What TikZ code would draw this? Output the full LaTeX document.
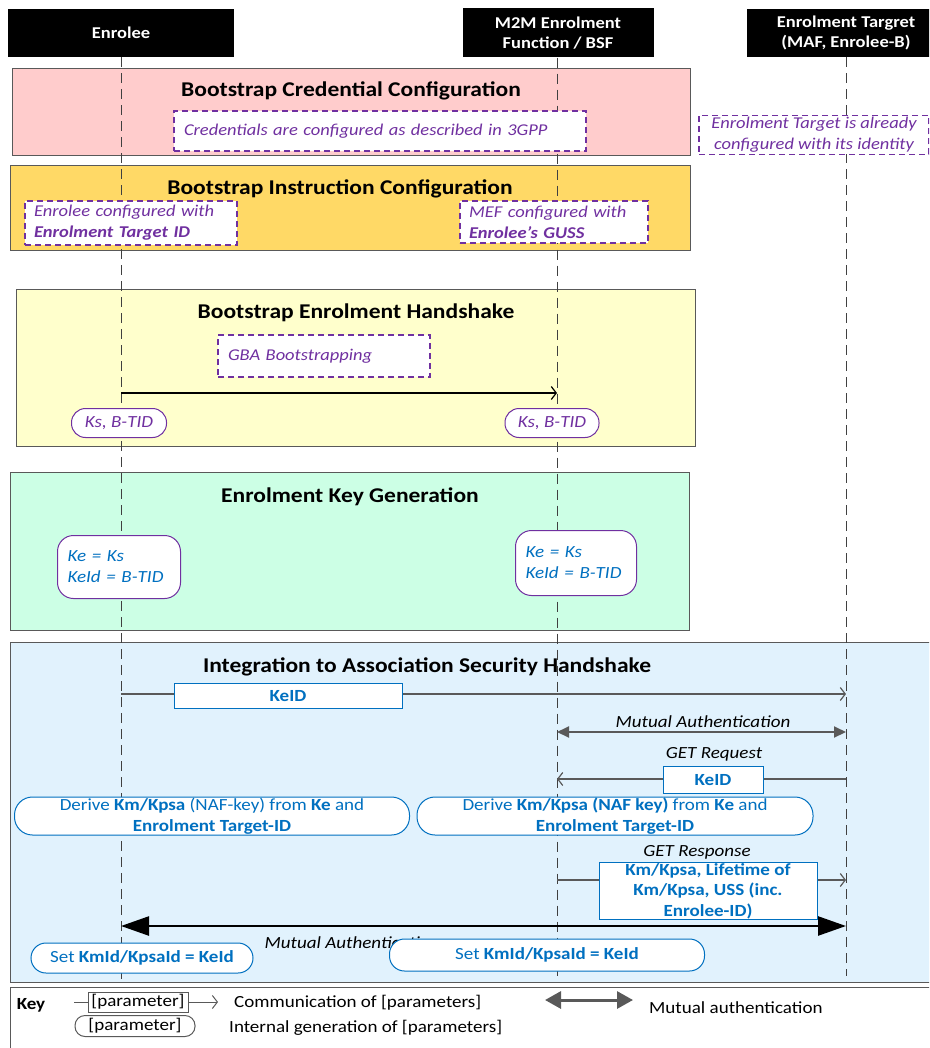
\documentclass[tikz,border=0pt]{standalone}
\usepackage{fontspec}
\setmainfont{Carlito}[FakeStretch=1.12]
\usetikzlibrary{arrows.meta}

\definecolor{mefblue}{HTML}{0070C0}
\definecolor{mefpurple}{HTML}{7030A0}
\definecolor{edgegray}{HTML}{595959}
\definecolor{lifegray}{HTML}{404040}
\definecolor{msggray}{HTML}{595959}
\definecolor{credpink}{HTML}{FFCCCC}
\definecolor{instrorange}{HTML}{FFD966}
\definecolor{handyellow}{HTML}{FFFFCC}
\definecolor{keygreen}{HTML}{CCFFE5}
\definecolor{assocblue}{HTML}{E1F2FD}

\begin{document}
\begin{tikzpicture}[
		x=1pt, y=-1pt,
		every node/.style={inner sep=0pt, font=\fontsize{17}{21}\selectfont},
		actor/.style={fill=black, text=white, font=\fontsize{16.5}{20}\selectfont\bfseries, align=center},
		phase/.style={draw=edgegray, line width=1.2pt, anchor=north west},
		phasetitle/.style={font=\fontsize{21}{24}\selectfont\bfseries},
		lifeline/.style={draw=lifegray, line width=1pt, dash pattern=on 10pt off 6pt},
		note/.style={draw=mefpurple, line width=1.2pt, dash pattern=on 6pt off 4pt, fill=white, text=mefpurple, font=\fontsize{16.5}{21}\selectfont\itshape},
		pill/.style={draw=mefpurple, line width=1pt, fill=white, text=mefpurple, font=\fontsize{17}{21}\selectfont\itshape},
		keyid/.style={draw=mefblue, line width=1pt, fill=white, text=mefblue, font=\fontsize{17}{20.5}\selectfont\bfseries, align=center},
		derive/.style={draw=mefblue, line width=1pt, fill=white, text=mefblue, font=\fontsize{17}{21}\selectfont, align=center},
		msg/.style={draw=msggray, line width=1.2pt, -{Straight Barb[length=5pt,width=13pt]}},
		mutual/.style={draw=msggray, line width=2pt, {Triangle[length=12pt,width=11pt]}-{Triangle[length=12pt,width=11pt]}},
		caption/.style={font=\fontsize{17}{21}\selectfont\itshape}
	]
  \clip (0, 0) rectangle (929, 1048);
  \fill[white] (0, 0) rectangle (929, 1048);

  % actors
  \node (enrolee) [actor, minimum width=226pt, minimum height=48pt] at (121, 33) {Enrolee};
  \node (mef) [actor, minimum width=191pt, minimum height=49pt] at (558, 33) {M2M Enrolment\\Function / BSF};
  \node (target) [actor, minimum width=198pt, minimum height=48pt] at (846, 33) {Enrolment Targret\\(MAF, Enrolee-B)};

  % phases
  \node (cred) [phase, fill=credpink, minimum width=678pt, minimum height=87pt] at (12, 68) {};
  \node (instr) [phase, fill=instrorange, minimum width=680pt, minimum height=85pt] at (10, 165) {};
  \node (hand) [phase, fill=handyellow, minimum width=679pt, minimum height=157pt] at (16, 289) {};
  \node (keygen) [phase, fill=keygreen, minimum width=679pt, minimum height=158pt] at (10, 472) {};
  \node (assoc) [phase, fill=assocblue, minimum width=940pt, minimum height=340pt] at (10, 642) {};
  \node (legend) [phase, fill=white, minimum width=940pt, minimum height=80pt] at (10, 987) {};

  \node (cred_title) [phasetitle] at (351, 91) {Bootstrap Credential Configuration};
  \node (instr_title) [phasetitle] at (340, 189) {Bootstrap Instruction Configuration};
  \node (hand_title) [phasetitle] at (356, 313) {Bootstrap Enrolment Handshake};
  \node (keygen_title) [phasetitle] at (350, 497) {Enrolment Key Generation};
  \node (assoc_title) [phasetitle] at (427, 667) {Integration to Association Security Handshake};

  % lifelines
  \coordinate (enrolee_end) at (121, 985);
  \coordinate (mef_end) at (557, 976);
  \coordinate (target_end) at (846, 976);
  \draw[lifeline] (enrolee) -- (enrolee_end);
  \draw[lifeline] (mef.south -| mef_end) -- (mef_end);
  \draw[lifeline] (target) -- (target_end);

  % configuration notes
  \node (cred_note) [note, text width=392pt, minimum height=40pt, inner xsep=10pt, align=left] at (380, 131) {Credentials are configured as described in 3GPP};
  \node (target_note) [note, minimum width=230pt, minimum height=39pt, align=center] at (814, 135) {Enrolment Target is already\\configured with its identity};
  \node (enrolee_note) [note, text width=194pt, minimum height=44pt, inner xsep=9pt, align=left] at (131, 223) {Enrolee configured with\\\textbf{Enrolment Target ID}};
  \node (mef_note) [note, text width=170pt, minimum height=42pt, inner xsep=9pt, align=left] at (554, 222) {MEF configured with\\\textbf{Enrolee’s GUSS}};

  % GBA bootstrapping
  \node (gba_note) [note, text width=192pt, minimum height=42pt, inner xsep=10pt, align=left] at (324, 356) {GBA Bootstrapping};
  \coordinate (gba_a) at (enrolee |- 0,393);
  \coordinate (gba_b) at (mef_end |- 0,393);
  \draw[line width=1.2pt, -{Straight Barb[length=5pt,width=13pt]}] (gba_a) -- (gba_b);
  \node (ks_enrolee) [pill, rounded corners=14pt, minimum width=95pt, minimum height=29pt] at (119, 423) {Ks, B-TID};
  \node (ks_mef) [pill, rounded corners=14pt, minimum width=94pt, minimum height=29pt] at (552, 423) {Ks, B-TID};

  % key generation
  \node (ke_enrolee) [pill, rounded corners=16pt, text=mefblue, text width=103pt, minimum height=63pt, inner xsep=10pt, align=left] at (119, 567) {Ke = Ks\\KeId = B-TID};
  \node (ke_mef) [pill, rounded corners=16pt, text=mefblue, text width=101pt, minimum height=65pt, inner xsep=10pt, align=left] at (576, 563) {Ke = Ks\\KeId = B-TID};

  % association security handshake
  \coordinate (keid_a) at (enrolee |- 0,694);
  \coordinate (keid_b) at (target_end |- 0,694);
  \draw[msg] (keid_a) -- (keid_b);
  \node (keid_msg) [keyid, minimum width=228pt, minimum height=25pt] at (288, 696) {KeID};

  \coordinate (auth_a) at (mef_end |- 0,732);
  \coordinate (auth_b) at (target_end |- 0,732);
  \draw[mutual] (auth_a) -- (auth_b);
  \node (auth_label) [caption] at (703, 722) {Mutual Authentication};

  \coordinate (req_a) at (target_end |- 0,779);
  \coordinate (req_b) at (mef_end |- 0,779);
  \draw[msg] (req_a) -- (req_b);
  \node (req_label) [caption] at (714, 754) {GET Request};
  \node (req_msg) [keyid, minimum width=100pt, minimum height=27pt] at (713, 780) {KeID};

  \node (derive_enrolee) [derive, rounded corners=18pt, minimum width=395pt, minimum height=38pt] at (212, 816) {Derive \textbf{Km/Kpsa} (NAF-key) from \textbf{Ke} and\\\textbf{Enrolment Target-ID}};
  \node (derive_mef) [derive, rounded corners=18pt, minimum width=396pt, minimum height=38pt] at (615, 816) {Derive \textbf{Km/Kpsa (NAF key)} from \textbf{Ke} and\\\textbf{Enrolment Target-ID}};

  \coordinate (resp_a) at (mef_end |- 0,880);
  \coordinate (resp_b) at (target_end |- 0,880);
  \draw[msg] (resp_a) -- (resp_b);
  \node (resp_label) [caption] at (697, 852) {GET Response};
  \node (resp_msg) [keyid, minimum width=218pt, minimum height=57pt] at (708, 891) {Km/Kpsa, Lifetime of\\Km/Kpsa, USS (inc.\\Enrolee-ID)};

  \coordinate (final_a) at (enrolee |- 0,926);
  \coordinate (final_b) at (target_end |- 0,926);
  \draw[line width=2.5pt, {Triangle[length=28pt,width=19pt]}-{Triangle[length=28pt,width=19pt]}] (final_a) -- (final_b);
  \node (final_label) [caption] at (352, 943) {Mutual Authentication};

  \node (set_enrolee) [derive, rounded corners=15pt, minimum width=222pt, minimum height=30pt] at (142, 958) {Set \textbf{KmId/KpsaId = KeId}};
  \node (set_mef) [derive, rounded corners=15pt, minimum width=315pt, minimum height=32pt] at (547, 955) {Set \textbf{KmId/KpsaId = KeId}};

  % key
  \node (key_title) [font=\fontsize{17}{21}\selectfont\bfseries] at (31, 1005) {Key};
  \coordinate (key_comm_a) at (74, 1002);
  \coordinate (key_comm_b) at (218, 1002);
  \node (key_param) [draw=edgegray, line width=1pt, minimum width=100pt, minimum height=20pt] at (138, 1002) {[parameter]};
  \draw[draw=edgegray, line width=1pt] (key_comm_a) -- (key_param);
  \draw[msg, line width=1pt] (key_param) -- (key_comm_b);
  \node (key_comm_text) [anchor=west] at (234, 1003) {Communication of [parameters]};
  \coordinate (key_auth_a) at (545, 1000);
  \coordinate (key_auth_b) at (633, 1000);
  \draw[draw=edgegray, line width=3pt, {Triangle[length=16pt,width=17pt]}-{Triangle[length=16pt,width=17pt]}] (key_auth_a) -- (key_auth_b);
  \node (key_auth_text) [anchor=west] at (649, 1008) {Mutual authentication};
  \node (key_pill) [draw=edgegray, line width=1pt, rounded corners=10pt, minimum width=120pt, minimum height=21pt] at (135, 1026) {[parameter]};
  \node (key_pill_text) [anchor=west] at (229, 1028) {Internal generation of [parameters]};
\end{tikzpicture}
\end{document}
